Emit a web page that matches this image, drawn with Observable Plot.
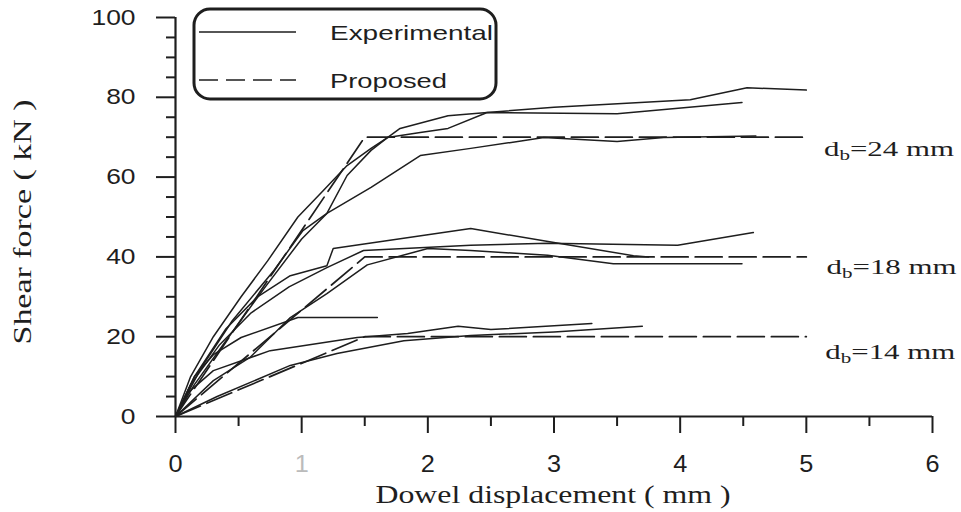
<!DOCTYPE html>
<html>
<head>
<meta charset="utf-8">
<script src="https://cdn.jsdelivr.net/npm/d3@7"></script>
<script src="https://cdn.jsdelivr.net/npm/@observablehq/plot@0.6"></script>
<style>
  html, body { margin: 0; padding: 0; background: #fff; }
  svg { display: block; }
</style>
</head>
<body>
<div id="chart"></div>
<script>
// Axis ticks
const xMajor = [0, 1, 2, 3, 4, 5, 6];
const xMinor = [0.5, 1.5, 2.5, 3.5, 4.5, 5.5];
const yMajor = [0, 20, 40, 60, 80, 100];
const yMinor = [5, 10, 15, 25, 30, 35, 45, 50, 55, 65, 70, 75, 85, 90, 95];

// Experimental load–slip curves: [displacement (mm), shear force (kN)]
const exp24a = [[0,0],[0.12,10],[0.3,20],[0.52,30],[0.73,39],[0.97,50],[1.17,56.6],[1.36,62.9],[1.55,67.2],[1.68,69.9],[1.78,72.2],[2.16,75.4],[2.47,76.2],[3.0,77.5],[4.08,79.4],[4.53,82.4],[5.0,81.8]];
const exp24b = [[0,0],[0.2,12],[0.45,24],[0.78,36.6],[1.01,46.6],[1.2,50.9],[1.36,60.4],[1.55,66.7],[1.68,69.9],[1.94,71.2],[2.16,72.2],[2.47,76.2],[3.5,75.9],[4.49,78.7]];
const exp24c = [[0,0],[0.15,8],[0.4,19],[0.7,32],[1.0,44.5],[1.2,50.9],[1.55,57.4],[1.94,65.4],[2.34,67.2],[2.92,69.9],[3.5,68.9],[3.87,69.9],[4.6,70.3]];
const exp18a = [[0,0],[0.15,10],[0.4,22],[0.65,30],[0.91,35.3],[1.2,37.8],[1.25,42.1],[2.34,47.1],[3.0,43.6],[3.63,40.3],[3.75,40]];
const exp18b = [[0,0],[0.12,8],[0.35,18],[0.6,26],[0.9,32.5],[1.2,37.3],[1.49,41.6],[2.34,42.9],[2.95,43.4],[3.98,42.9],[4.58,46.1]];
const exp18c = [[0,0],[0.3,9],[0.59,14.8],[0.91,24.8],[1.2,30.8],[1.52,38],[2.0,42.1],[2.34,41.6],[2.95,40.4],[3.47,38.3],[4.49,38.3]];
const exp18d = [[0,0],[0.15,10],[0.3,15.5],[0.52,19.8],[0.97,24.8],[1.6,24.8]];
const exp14a = [[0,0],[0.1,6],[0.3,11.5],[0.75,16.5],[1.44,19.8],[1.84,20.8],[2.24,22.6],[2.5,21.8],[3.3,23.3]];
const exp14b = [[0,0],[0.33,5],[0.91,12.8],[1.28,15.8],[1.81,19],[2.34,20.3],[3.0,21.2],[3.7,22.6]];

// Proposed bilinear model
const prop24 = [[0,0],[1.5,70],[5.0,70]];
const prop18 = [[0,0],[1.5,40],[5.0,40]];
const prop14 = [[0,0],[1.5,20],[5.0,20]];

// Dowel diameter labels and where they sit
const diameters = [24, 18, 14];
const diamLabelX = [5.14, 5.16, 5.15];
const diamLabelY = [65.4, 35.8, 14.5];

const series = [
  {id: "e24a", kind: "exp", pts: exp24a},
  {id: "e24b", kind: "exp", pts: exp24b},
  {id: "e24c", kind: "exp", pts: exp24c},
  {id: "e18a", kind: "exp", pts: exp18a},
  {id: "e18b", kind: "exp", pts: exp18b},
  {id: "e18c", kind: "exp", pts: exp18c},
  {id: "e18d", kind: "exp", pts: exp18d},
  {id: "e14a", kind: "exp", pts: exp14a},
  {id: "e14b", kind: "exp", pts: exp14b},
  {id: "p24", kind: "prop", pts: prop24},
  {id: "p18", kind: "prop", pts: prop18},
  {id: "p14", kind: "prop", pts: prop14}
];
const rows = series.flatMap(s => s.pts.map(([x, y]) => ({id: s.id, kind: s.kind, x, y})));
const diamRows = diameters.map((d, i) => ({d, x: diamLabelX[i], y: diamLabelY[i]}));

const ink = "#1e1e1e";
const sans = "'Liberation Sans', Arial, sans-serif";
const serif = "'Liberation Serif', 'Times New Roman', serif";

const chart = Plot.plot({
  width: 961,
  height: 512,
  marginLeft: 175,
  marginRight: 29,
  marginTop: 17,
  marginBottom: 96,
  x: {domain: [0, 6]},
  y: {domain: [0, 100]},
  style: {background: "#fff", color: ink, fontFamily: sans},
  marks: [
    Plot.axisY({ticks: yMinor, tickSize: 9, fill: "none", label: null, strokeWidth: 2}),
    Plot.axisY({ticks: yMajor, tickSize: 19, tickPadding: 21, fontSize: 22, fontFamily: sans, label: null, strokeWidth: 2, tickFormat: d => String(d)}),
    Plot.axisX({ticks: xMinor, tickSize: 10, fill: "none", label: null, strokeWidth: 2}),
    Plot.axisX({ticks: xMajor, tickSize: 17, tickPadding: 22, fontSize: 23, fontFamily: sans, label: null, strokeWidth: 2, tickFormat: d => String(d)}),
    Plot.ruleY([0], {stroke: ink, strokeWidth: 2.2}),
    Plot.ruleX([0], {stroke: ink, strokeWidth: 2.2}),
    Plot.line(rows.filter(d => d.kind === "prop"), {x: "x", y: "y", z: "id", stroke: ink, strokeWidth: 1.7, strokeDasharray: "27,7"}),
    Plot.line(rows.filter(d => d.kind === "exp"), {x: "x", y: "y", z: "id", stroke: ink, strokeWidth: 1.5}),
    Plot.text(diamRows, {x: "x", y: "y", text: d => `db=${d.d} mm`, textAnchor: "start", lineAnchor: "bottom", fontSize: 22, fontFamily: serif, fill: ink})
  ]
});

document.getElementById("chart").append(chart);
const svg = d3.select(chart);

// Widen text horizontally about its anchor
function widen(el, k) {
  const t = el.getAttribute("transform");
  if (t) {
    el.setAttribute("transform", `${t} scale(${k},1)`);
  } else {
    el.setAttribute("textLength", el.getComputedTextLength() * k);
    el.setAttribute("lengthAdjust", "spacingAndGlyphs");
  }
}

// Diameter labels: subscript b, widened to the drawn width
svg.selectAll("text").each(function () {
  const s = this.textContent;
  if (/^db=/.test(s)) {
    const rest = s.slice(2);
    const t = d3.select(this);
    t.text(null);
    t.append("tspan").text("d");
    t.append("tspan").attr("font-size", 15).attr("dy", 4).text("b");
    t.append("tspan").attr("dy", -4).text(rest);
    const w = this.getBBox().width;
    widen(this, 130 / w);
  }
});
svg.selectAll("g[aria-label='y-axis tick label'] text").each(function () { widen(this, 1.2); });
svg.selectAll("g[aria-label='x-axis tick label'] text").each(function () {
  widen(this, 1.1);
  if (this.textContent === "1") d3.select(this).attr("fill", "#bbb");
});

// Axis titles
svg.append("text")
  .attr("transform", "translate(31,222) rotate(-90)")
  .attr("text-anchor", "middle")
  .attr("font-family", serif)
  .attr("font-size", 25)
  .attr("fill", ink)
  .attr("textLength", 245)
  .attr("lengthAdjust", "spacingAndGlyphs")
  .text("Shear force ( kN )");

svg.append("text")
  .attr("x", 553).attr("y", 503)
  .attr("text-anchor", "middle")
  .attr("font-family", serif)
  .attr("font-size", 25)
  .attr("fill", ink)
  .attr("textLength", 355)
  .attr("lengthAdjust", "spacingAndGlyphs")
  .text("Dowel displacement ( mm )");

// Legend box
const lg = svg.append("g").attr("text-anchor", "start");
lg.append("rect")
  .attr("x", 194).attr("y", 9).attr("width", 302).attr("height", 90)
  .attr("rx", 16).attr("fill", "#fff").attr("stroke", ink).attr("stroke-width", 3);
lg.append("line").attr("x1", 199).attr("x2", 296).attr("y1", 32).attr("y2", 32)
  .attr("stroke", ink).attr("stroke-width", 1.6);
lg.append("line").attr("x1", 199).attr("x2", 296).attr("y1", 80).attr("y2", 80)
  .attr("stroke", ink).attr("stroke-width", 1.6).attr("stroke-dasharray", "19,8");
lg.append("text").attr("x", 330).attr("y", 40).attr("text-anchor", "start").attr("font-family", sans).attr("font-size", 21)
  .attr("fill", ink).attr("textLength", 163).attr("lengthAdjust", "spacingAndGlyphs").text("Experimental");
lg.append("text").attr("x", 330).attr("y", 88).attr("text-anchor", "start").attr("font-family", sans).attr("font-size", 21)
  .attr("fill", ink).attr("textLength", 117).attr("lengthAdjust", "spacingAndGlyphs").text("Proposed");
</script>
</body>
</html>
